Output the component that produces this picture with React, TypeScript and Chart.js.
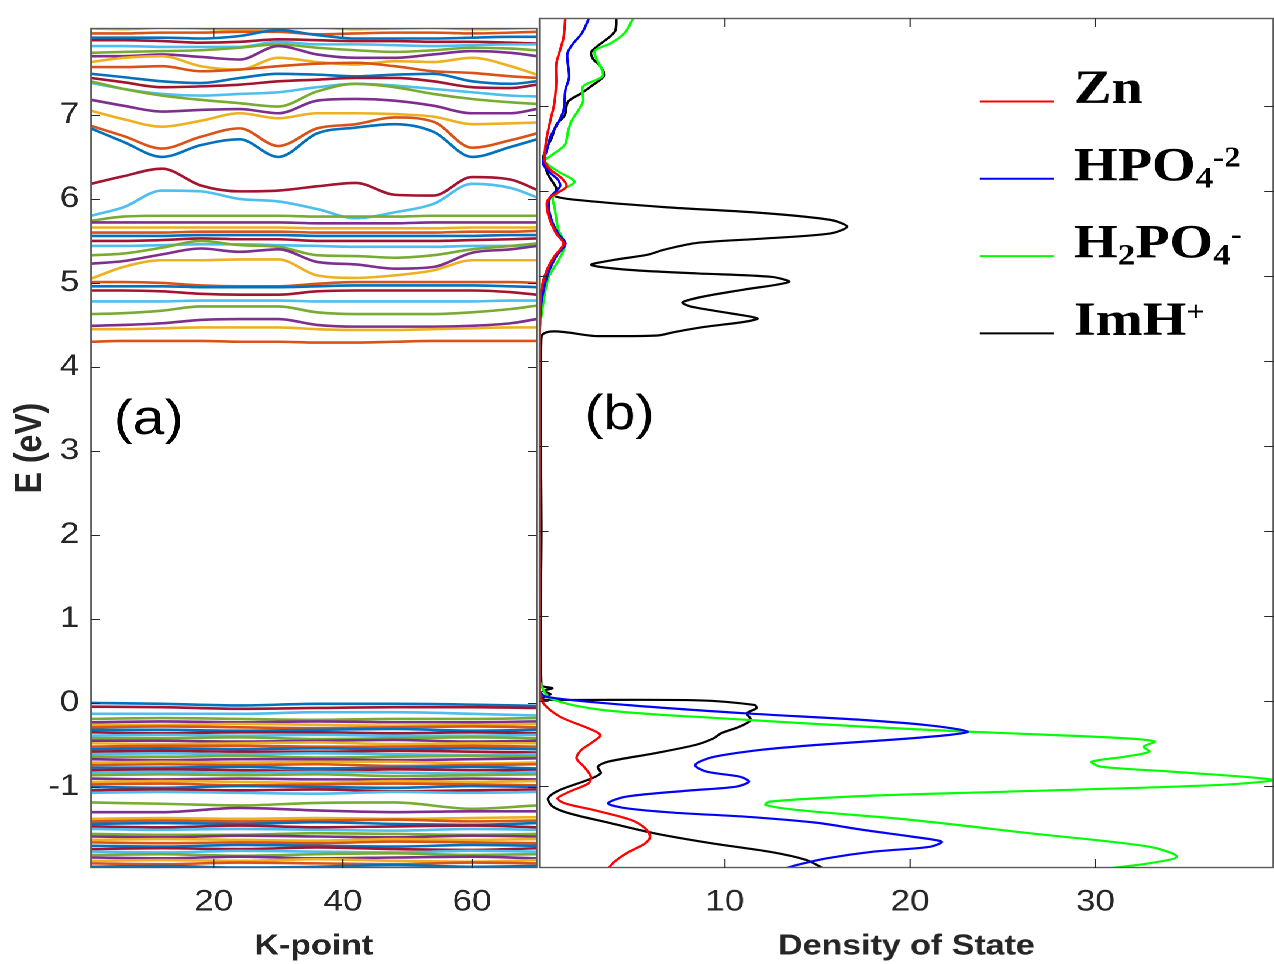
import React, { useEffect, useRef } from 'react';
import { Chart, registerables } from 'chart.js';

Chart.register(...registerables);

// ---------------- data ----------------
// k-points at which band energies were read
const K_VAL = [1, 12, 24, 36, 48, 60, 70];
const K_COND = [1, 6, 12, 18, 24, 30, 36, 42, 48, 54, 60, 66, 70];

// valence bands (eV), bottom to top, sampled at K_VAL
const VALENCE_BANDS = [
  [-1.95, -1.94, -1.96, -1.95, -1.93, -1.95, -1.94],
  [-1.91, -1.92, -1.9, -1.91, -1.92, -1.9, -1.91],
  [-1.88, -1.87, -1.88, -1.86, -1.88, -1.89, -1.87],
  [-1.84, -1.85, -1.83, -1.85, -1.84, -1.83, -1.85],
  [-1.81, -1.8, -1.82, -1.8, -1.79, -1.81, -1.8],
  [-1.77, -1.78, -1.76, -1.77, -1.78, -1.76, -1.77],
  [-1.74, -1.73, -1.74, -1.72, -1.74, -1.75, -1.73],
  [-1.7, -1.71, -1.69, -1.7, -1.71, -1.69, -1.7],
  [-1.66, -1.67, -1.66, -1.67, -1.65, -1.66, -1.67],
  [-1.63, -1.62, -1.63, -1.64, -1.62, -1.63, -1.62],
  [-1.59, -1.6, -1.58, -1.59, -1.6, -1.58, -1.59],
  [-1.56, -1.57, -1.57, -1.55, -1.56, -1.57, -1.56],
  [-1.5, -1.51, -1.5, -1.51, -1.52, -1.5, -1.51],
  [-1.47, -1.48, -1.46, -1.48, -1.47, -1.46, -1.48],
  [-1.44, -1.43, -1.44, -1.42, -1.44, -1.45, -1.43],
  [-1.41, -1.4, -1.41, -1.4, -1.39, -1.41, -1.4],
  [-1.38, -1.37, -1.38, -1.37, -1.38, -1.37, -1.36],
  [-1.3, -1.3, -1.25, -1.28, -1.3, -1.29, -1.29],
  [-1.185, -1.2, -1.22, -1.19, -1.185, -1.26, -1.22],
  [-1.07, -1.06, -1.07, -1.08, -1.06, -1.07, -1.06],
  [-1.04, -1.03, -1.04, -1.03, -1.05, -1.04, -1.03],
  [-1.0, -1.01, -0.99, -1.0, -1.01, -0.99, -1.0],
  [-0.97, -0.96, -0.98, -0.97, -0.96, -0.97, -0.98],
  [-0.94, -0.93, -0.94, -0.95, -0.93, -0.94, -0.93],
  [-0.9, -0.91, -0.9, -0.91, -0.91, -0.9, -0.91],
  [-0.86, -0.85, -0.86, -0.85, -0.87, -0.86, -0.85],
  [-0.83, -0.82, -0.83, -0.82, -0.83, -0.84, -0.82],
  [-0.8, -0.79, -0.8, -0.81, -0.79, -0.8, -0.8],
  [-0.77, -0.77, -0.76, -0.78, -0.77, -0.76, -0.78],
  [-0.74, -0.73, -0.74, -0.73, -0.75, -0.74, -0.73],
  [-0.71, -0.7, -0.71, -0.7, -0.7, -0.72, -0.71],
  [-0.67, -0.68, -0.67, -0.67, -0.68, -0.67, -0.66],
  [-0.64, -0.64, -0.63, -0.65, -0.64, -0.63, -0.64],
  [-0.61, -0.6, -0.61, -0.6, -0.61, -0.62, -0.61],
  [-0.58, -0.57, -0.58, -0.58, -0.57, -0.58, -0.59],
  [-0.55, -0.54, -0.55, -0.54, -0.55, -0.54, -0.55],
  [-0.52, -0.51, -0.51, -0.52, -0.52, -0.51, -0.52],
  [-0.48, -0.49, -0.48, -0.47, -0.49, -0.48, -0.48],
  [-0.45, -0.45, -0.46, -0.45, -0.44, -0.46, -0.45],
  [-0.42, -0.42, -0.41, -0.43, -0.42, -0.41, -0.42],
  [-0.39, -0.38, -0.39, -0.38, -0.39, -0.39, -0.38],
  [-0.35, -0.36, -0.35, -0.35, -0.36, -0.35, -0.36],
  [-0.32, -0.32, -0.33, -0.32, -0.31, -0.33, -0.32],
  [-0.29, -0.28, -0.29, -0.3, -0.29, -0.28, -0.29],
  [-0.26, -0.26, -0.25, -0.26, -0.27, -0.26, -0.25],
  [-0.23, -0.22, -0.23, -0.22, -0.23, -0.23, -0.22],
  [-0.19, -0.18, -0.19, -0.2, -0.19, -0.19, -0.18],
  [-0.13, -0.13, -0.13, -0.11, -0.11, -0.13, -0.15],
  [-0.045, -0.05, -0.07, -0.06, -0.05, -0.05, -0.06],
  [0.0, -0.01, -0.03, -0.01, -0.01, -0.02, -0.035],
];

// conduction bands (eV), bottom to top, sampled at K_COND
const CONDUCTION_BANDS = [
  [4.3, 4.31, 4.31, 4.31, 4.3, 4.3, 4.29, 4.29, 4.3, 4.31, 4.31, 4.31, 4.31],
  [4.45, 4.45, 4.46, 4.47, 4.47, 4.47, 4.45, 4.44, 4.44, 4.45, 4.46, 4.47, 4.47],
  [4.49, 4.5, 4.52, 4.56, 4.57, 4.57, 4.5, 4.48, 4.48, 4.48, 4.49, 4.52, 4.57],
  [4.63, 4.64, 4.67, 4.72, 4.72, 4.72, 4.65, 4.63, 4.63, 4.63, 4.65, 4.69, 4.73],
  [4.78, 4.78, 4.78, 4.79, 4.79, 4.79, 4.78, 4.78, 4.78, 4.78, 4.78, 4.79, 4.79],
  [4.91, 4.91, 4.9, 4.87, 4.86, 4.86, 4.9, 4.91, 4.91, 4.91, 4.91, 4.89, 4.86],
  [4.96, 4.96, 4.96, 4.95, 4.95, 4.95, 4.96, 4.97, 4.97, 4.97, 4.97, 4.96, 4.95],
  [5.01, 5.01, 5.0, 4.97, 4.96, 4.96, 4.99, 5.01, 5.01, 5.01, 5.01, 5.01, 5.0],
  [5.05, 5.19, 5.27, 5.27, 5.28, 5.28, 5.09, 5.06, 5.09, 5.15, 5.27, 5.27, 5.27],
  [5.23, 5.26, 5.34, 5.41, 5.37, 5.4, 5.25, 5.22, 5.17, 5.19, 5.36, 5.4, 5.44],
  [5.33, 5.35, 5.42, 5.5, 5.45, 5.43, 5.33, 5.32, 5.3, 5.33, 5.4, 5.44, 5.47],
  [5.44, 5.44, 5.45, 5.46, 5.46, 5.45, 5.44, 5.43, 5.43, 5.43, 5.44, 5.44, 5.45],
  [5.5, 5.5, 5.51, 5.53, 5.52, 5.52, 5.5, 5.5, 5.5, 5.5, 5.51, 5.52, 5.53],
  [5.56, 5.56, 5.56, 5.57, 5.57, 5.57, 5.56, 5.56, 5.56, 5.56, 5.56, 5.57, 5.57],
  [5.6, 5.6, 5.6, 5.61, 5.61, 5.61, 5.6, 5.6, 5.6, 5.6, 5.61, 5.61, 5.62],
  [5.66, 5.66, 5.66, 5.66, 5.66, 5.66, 5.65, 5.65, 5.65, 5.65, 5.66, 5.66, 5.66],
  [5.72, 5.72, 5.72, 5.72, 5.72, 5.72, 5.71, 5.71, 5.71, 5.72, 5.72, 5.72, 5.72],
  [5.74, 5.79, 5.8, 5.8, 5.8, 5.8, 5.79, 5.79, 5.79, 5.8, 5.8, 5.8, 5.8],
  [5.8, 5.9, 6.1, 6.09, 6.0, 5.97, 5.88, 5.77, 5.84, 5.94, 6.18, 6.13, 6.02],
  [6.18, 6.27, 6.36, 6.16, 6.09, 6.1, 6.15, 6.19, 6.05, 6.04, 6.26, 6.23, 6.11],
  [6.84, 6.68, 6.5, 6.64, 6.71, 6.5, 6.78, 6.85, 6.89, 6.8, 6.5, 6.62, 6.71],
  [6.87, 6.75, 6.6, 6.74, 6.84, 6.63, 6.84, 6.89, 6.97, 6.92, 6.61, 6.7, 6.78],
  [7.05, 6.95, 6.86, 6.93, 7.02, 6.96, 7.02, 7.02, 7.01, 6.98, 6.89, 6.9, 6.91],
  [7.18, 7.11, 7.04, 7.06, 7.07, 7.02, 7.17, 7.19, 7.17, 7.11, 7.02, 7.02, 7.07],
  [7.4, 7.31, 7.23, 7.18, 7.14, 7.1, 7.28, 7.37, 7.33, 7.25, 7.19, 7.15, 7.13],
  [7.38, 7.31, 7.25, 7.23, 7.25, 7.27, 7.33, 7.37, 7.35, 7.31, 7.27, 7.23, 7.22],
  [7.44, 7.39, 7.33, 7.34, 7.36, 7.4, 7.42, 7.44, 7.44, 7.4, 7.33, 7.32, 7.36],
  [7.49, 7.45, 7.4, 7.38, 7.44, 7.49, 7.48, 7.46, 7.48, 7.49, 7.4, 7.37, 7.4],
  [7.57, 7.57, 7.58, 7.52, 7.54, 7.58, 7.61, 7.62, 7.58, 7.52, 7.5, 7.46, 7.44],
  [7.63, 7.68, 7.7, 7.58, 7.54, 7.68, 7.63, 7.6, 7.64, 7.63, 7.68, 7.58, 7.48],
  [7.7, 7.7, 7.72, 7.69, 7.66, 7.82, 7.72, 7.68, 7.68, 7.72, 7.76, 7.74, 7.7],
  [7.74, 7.75, 7.76, 7.77, 7.8, 7.84, 7.8, 7.77, 7.75, 7.77, 7.8, 7.79, 7.77],
  [7.82, 7.82, 7.81, 7.81, 7.81, 7.87, 7.84, 7.84, 7.83, 7.82, 7.83, 7.84, 7.84],
  [7.89, 7.89, 7.88, 7.86, 7.87, 7.9, 7.89, 7.88, 7.88, 7.87, 7.87, 7.86, 7.85],
  [7.92, 7.92, 7.92, 7.91, 7.94, 8.01, 7.95, 7.91, 7.91, 7.91, 7.92, 7.93, 7.93],
  [7.97, 7.97, 7.98, 7.98, 7.99, 7.99, 7.96, 7.97, 7.98, 7.98, 7.97, 7.98, 7.99],
  [8.03, 8.02, 8.04, 8.03, 8.01, 8.03, 8.04, 8.02, 8.03, 8.04, 8.02, 8.03, 8.04],
];

// MATLAB default colour order
const BAND_COLORS = ['#0072BD', '#D95319', '#EDB120', '#7E2F8E', '#77AC30', '#4DBEEE', '#A2142F'];

// axes
const E_MIN = -1.965;
const E_MAX = 8.035;
const E_TICKS = [-1, 0, 1, 2, 3, 4, 5, 6, 7];
const K_MIN = 1;
const K_MAX = 70;
const K_TICKS = [20, 40, 60];
const DOS_MIN = 0;
const DOS_MAX = 39.6;
const DOS_TICKS = [10, 20, 30];

// partial density of states: energy (eV) and DOS, top to bottom
const ZN_E = [8.05, 7.81, 7.65, 7.49, 7.27, 7.03, 6.84, 6.64, 6.48, 6.34, 6.25, 6.15, 6.05, 5.93, 5.86, 5.7, 5.5, 5.38, 5.23, 5.07, 4.84, 4.5, 4.28, 2.0, 0.3, 0.13, -0.027, -0.184, -0.322, -0.4, -0.478, -0.576, -0.675, -0.773, -0.89, -0.969, -1.067, -1.145, -1.204, -1.282, -1.4, -1.498, -1.596, -1.675, -1.792, -1.89, -1.98];
const ZN_DOS = [1.4, 1.3, 1.1, 0.9, 0.9, 0.8, 0.6, 0.4, 0.3, 0.3, 0.6, 1.2, 1.45, 0.6, 0.4, 0.5, 0.9, 1.3, 0.8, 0.4, 0.1, 0.02, 0, 0, 0, 0, 0.21, 1.1, 2.64, 3.28, 2.9, 2.26, 2.0, 2.4, 2.77, 2.64, 1.62, 0.98, 1.36, 2.9, 4.95, 5.7, 5.97, 5.7, 4.69, 4.05, 3.67];

const HPO4_E = [8.05, 7.86, 7.73, 7.61, 7.34, 7.19, 6.95, 6.8, 6.64, 6.48, 6.32, 6.21, 6.13, 6.05, 5.93, 5.82, 5.66, 5.5, 5.38, 5.23, 4.99, 4.68, 4.28, 2.0, 0.3, 0.13, 0.05, -0.047, -0.145, -0.224, -0.294, -0.361, -0.4, -0.459, -0.518, -0.576, -0.663, -0.753, -0.831, -0.89, -0.949, -1.008, -1.055, -1.125, -1.204, -1.263, -1.314, -1.361, -1.431, -1.518, -1.596, -1.655, -1.714, -1.773, -1.851, -1.929, -1.98];
const HPO4_DOS = [2.7, 2.3, 1.8, 1.5, 1.6, 1.4, 1.3, 1.0, 0.6, 0.4, 0.2, 0.6, 1.0, 1.1, 0.6, 0.5, 0.65, 1.0, 1.4, 0.9, 0.4, 0.1, 0, 0, 0, 0, 0.34, 4.7, 11.1, 17.5, 21.3, 23.1, 22.1, 18.8, 14.9, 11.9, 9.3, 8.4, 9.0, 10.8, 11.3, 10.6, 8.0, 4.7, 3.7, 4.7, 7.25, 11.1, 14.9, 17.5, 20.1, 21.7, 21.1, 18.0, 15.5, 13.9, 13.1];

const H2PO4_E = [8.05, 7.86, 7.74, 7.64, 7.36, 7.23, 7.05, 6.82, 6.7, 6.54, 6.42, 6.35, 6.23, 6.11, 6.03, 5.93, 5.8, 5.56, 5.36, 5.21, 4.97, 4.54, 4.28, 2.0, 0.3, 0.208, 0.031, -0.106, -0.204, -0.302, -0.361, -0.4, -0.439, -0.478, -0.537, -0.596, -0.655, -0.714, -0.773, -0.831, -0.929, -0.988, -1.067, -1.118, -1.184, -1.224, -1.282, -1.4, -1.557, -1.714, -1.831, -1.91, -1.98];
const H2PO4_DOS = [5.1, 4.6, 3.87, 2.97, 3.42, 2.35, 2.35, 1.72, 1.54, 1.36, 0.65, 0.29, 1.0, 1.9, 1.36, 0.73, 0.82, 1.0, 1.36, 1.09, 0.47, 0.11, 0, 0, 0, 0.05, 0.59, 3.41, 9.81, 17.5, 23.1, 27.7, 31.6, 33.2, 32.6, 32.9, 31.6, 29.8, 30.3, 34.1, 39.6, 36.7, 25.2, 17.5, 12.4, 12.2, 13.9, 20.1, 26.5, 32.9, 34.4, 32.9, 30.2];

const IMH_E = [8.05, 7.87, 7.64, 7.55, 7.48, 7.36, 7.25, 7.15, 7.05, 6.89, 6.78, 6.62, 6.5, 6.38, 6.19, 6.03, 5.94, 5.89, 5.81, 5.74, 5.66, 5.58, 5.5, 5.44, 5.39, 5.31, 5.25, 5.19, 5.13, 5.07, 5.03, 4.99, 4.93, 4.84, 4.76, 4.69, 4.64, 4.56, 4.5, 4.46, 4.4, 4.34, 4.3, 4.292, 4.285, 2.0, 0.19, 0.15, 0.12, 0.08, 0.04, 0.015, 0.008, -0.047, -0.086, -0.145, -0.224, -0.302, -0.38, -0.439, -0.518, -0.616, -0.714, -0.773, -0.851, -0.929, -1.047, -1.145, -1.243, -1.322, -1.431, -1.557, -1.675, -1.773, -1.871, -1.98];
const IMH_DOS = [4.15, 4.05, 2.8, 2.9, 3.24, 3.5, 2.9, 2.26, 1.54, 1.36, 0.91, 0.65, 0.38, 0.2, 0.47, 0.91, 0.82, 2.26, 6.74, 12.1, 15.7, 16.6, 15.7, 12.1, 8.53, 6.74, 5.84, 4.05, 2.8, 4.95, 8.53, 12.5, 13.46, 11.04, 8.89, 7.72, 8.17, 10.32, 11.76, 11.04, 8.89, 7.28, 6.38, 3.2, 0.1, 0.1, 0.1, 0.7, 0.2, 0.6, 0.2, 0.1, 8.5, 11.6, 11.7, 11.2, 11.4, 10.8, 9.8, 9.4, 8.4, 6.2, 3.7, 3.15, 3.3, 2.6, 1.1, 0.47, 0.72, 1.6, 3.7, 6.2, 9.3, 12.4, 14.4, 15.4];

const SPECIES = ['Zn', 'HPO4-2', 'H2PO4-', 'ImH+'];
const SPECIES_COLORS = ['#ff0000', '#0000ff', '#00ff00', '#000000'];
const SPECIES_E = [ZN_E, HPO4_E, H2PO4_E, IMH_E];
const SPECIES_DOS = [ZN_DOS, HPO4_DOS, H2PO4_DOS, IMH_DOS];

// legend text pieces: [text, 'n' | 'sub' | 'sup']
const LEGEND_PARTS = [
  [['Zn', 'n']],
  [['HPO', 'n'], ['4', 'sub'], ['-2', 'sup']],
  [['H', 'n'], ['2', 'sub'], ['PO', 'n'], ['4', 'sub'], ['-', 'sup']],
  [['ImH', 'n'], ['+', 'sup']],
];

const PANEL_LABELS_A = [{ text: '(a)', x: 4.5, y: 3.36 }];
const PANEL_LABELS_B = [{ text: '(b)', x: 2.42, y: 3.36 }];

// ---------------- layout ----------------
const SX = 1.17; // horizontal stretch of the figure
const PAGE_W = 1274;
const PAGE_H = 964;
const LOG_W = PAGE_W / SX;
const A_W = 460; // logical width of band panel canvas
const B_W = LOG_W - A_W;
const AXIS_COL = '#262626';
const FRAME_COL = '#5a5a5a';
const SANS = '"Liberation Sans", Arial, Helvetica, sans-serif';
const SERIF = '"Liberation Serif", "Times New Roman", Times, serif';

const boxPlugin = {
  id: 'matlabBox',
  afterDatasetsDraw(chart: any, _args: any, opts: any) {
    const { ctx, chartArea } = chart;
    const { left, right, top, bottom } = chartArea;
    const xs = chart.scales.x;
    const ys = chart.scales.y;
    ctx.save();
    ctx.strokeStyle = FRAME_COL;
    ctx.lineWidth = 1.4;
    ctx.strokeRect(left, top + 0.5, right - left, bottom - top - 1);
    ctx.strokeStyle = AXIS_COL;
    ctx.lineWidth = 1.1;
    ctx.beginPath();
    const Lv = 9;
    const Lh = 9 / SX;
    for (const v of opts.xTicks || []) {
      const px = xs.getPixelForValue(v);
      ctx.moveTo(px, bottom);
      ctx.lineTo(px, bottom - Lv);
      ctx.moveTo(px, top);
      ctx.lineTo(px, top + Lv);
    }
    for (const v of opts.yTicks || []) {
      const py = Math.round(ys.getPixelForValue(v)) + 0.5;
      ctx.moveTo(left, py);
      ctx.lineTo(left + Lh, py);
      ctx.moveTo(right, py);
      ctx.lineTo(right - Lh, py);
    }
    ctx.stroke();
    ctx.restore();
  },
};

const panelTextPlugin = {
  id: 'panelText',
  afterDraw(chart: any, _args: any, opts: any) {
    if (!opts || !opts.items) return;
    const { ctx } = chart;
    const xs = chart.scales.x;
    const ys = chart.scales.y;
    ctx.save();
    ctx.font = `49px ${SANS}`;
    ctx.fillStyle = '#000';
    ctx.textBaseline = 'middle';
    ctx.textAlign = 'left';
    for (const it of opts.items) {
      ctx.fillText(it.text, xs.getPixelForValue(it.x), ys.getPixelForValue(it.y));
    }
    ctx.restore();
  },
};

const legendPlugin = {
  id: 'speciesLegend',
  afterDraw(chart: any, _args: any, opts: any) {
    if (!opts || !opts.entries) return;
    const { ctx } = chart;
    const left = chart.chartArea.left;
    ctx.save();
    opts.entries.forEach((parts: any[], i: number) => {
      const yb = opts.y0 + i * opts.dy;
      ctx.strokeStyle = opts.colors[i];
      ctx.lineWidth = 2;
      ctx.beginPath();
      ctx.moveTo(left + opts.lineX0, yb - 1.5);
      ctx.lineTo(left + opts.lineX1, yb - 1.5);
      ctx.stroke();
      let x = left + opts.textX;
      ctx.fillStyle = '#000';
      ctx.textBaseline = 'alphabetic';
      ctx.textAlign = 'left';
      for (const [t, kind] of parts) {
        const size = kind === 'n' ? 48 : kind === 'sub' ? 30 : 28;
        ctx.font = `bold ${size}px ${SERIF}`;
        const off = kind === 'sub' ? 7 : kind === 'sup' ? -14 : 0;
        ctx.fillText(t, x, yb + off);
        x += ctx.measureText(t).width;
      }
    });
    ctx.restore();
  },
};

function fixedTicks(values: number[]) {
  return (scale: any) => {
    scale.ticks = values.map((v) => ({ value: v }));
  };
}

const tickFont = { family: SANS, size: 30 };
const titleFont = { family: SANS, size: 29, weight: 'bold' as const };

export default function App() {
  const refA = useRef<HTMLCanvasElement | null>(null);
  const refB = useRef<HTMLCanvasElement | null>(null);

  useEffect(() => {
    const allBands = [
      ...VALENCE_BANDS.map((e) => ({ k: K_VAL, e })),
      ...CONDUCTION_BANDS.map((e) => ({ k: K_COND, e })),
    ];
    const bandSets = allBands.map((b, i) => ({
      label: `band ${i + 1}`,
      data: b.e.map((e, j) => ({ x: b.k[j], y: e })),
      borderColor: BAND_COLORS[i % BAND_COLORS.length],
      borderWidth: 2.6,
      pointRadius: 0,
      fill: false,
      cubicInterpolationMode: 'monotone' as const,
    }));

    const chartA = new Chart(refA.current as HTMLCanvasElement, {
      type: 'line',
      data: { datasets: bandSets as any },
      plugins: [boxPlugin, panelTextPlugin],
      options: {
        animation: false,
        responsive: true,
        maintainAspectRatio: false,
        devicePixelRatio: 2,
        layout: { padding: { top: 18, right: 0, left: 0, bottom: 0 } },
        events: [],
        scales: {
          x: {
            type: 'linear',
            min: K_MIN,
            max: K_MAX,
            afterBuildTicks: fixedTicks(K_TICKS),
            afterFit: (s: any) => {
              s.height = PAGE_H - 868;
            },
            grid: { display: false, drawTicks: false },
            border: { display: false },
            ticks: { font: tickFont, color: AXIS_COL, padding: 16, maxRotation: 0, autoSkip: false },
            title: { display: true, text: 'K-point', font: titleFont, color: AXIS_COL, padding: { top: 0, bottom: 0 } },
          },
          y: {
            type: 'linear',
            min: E_MIN,
            max: E_MAX,
            afterBuildTicks: fixedTicks(E_TICKS),
            afterFit: (s: any) => {
              s.width = 91 / SX;
            },
            grid: { display: false, drawTicks: false },
            border: { display: false },
            ticks: { font: tickFont, color: AXIS_COL, padding: 10, autoSkip: false, callback: (v: any) => String(v) },
            title: { display: true, text: 'E (eV)', font: { ...titleFont, size: 32 }, color: AXIS_COL, padding: { top: 7, bottom: 0 } },
          },
        },
        plugins: {
          legend: { display: false },
          tooltip: { enabled: false },
          matlabBox: { xTicks: K_TICKS, yTicks: E_TICKS },
          panelText: { items: PANEL_LABELS_A },
        } as any,
      },
    });

    const dosSets = SPECIES.map((name, i) => ({
      label: name,
      data: SPECIES_E[i].map((e, j) => ({ x: SPECIES_DOS[i][j], y: e })),
      borderColor: SPECIES_COLORS[i],
      borderWidth: 2.2,
      pointRadius: 0,
      fill: false,
      tension: 0.3,
    }));

    const chartB = new Chart(refB.current as HTMLCanvasElement, {
      type: 'line',
      data: { datasets: dosSets as any },
      plugins: [boxPlugin, panelTextPlugin, legendPlugin],
      options: {
        animation: false,
        responsive: true,
        maintainAspectRatio: false,
        devicePixelRatio: 2,
        layout: { padding: { top: 18, right: 0, left: 0, bottom: 0 } },
        events: [],
        scales: {
          x: {
            type: 'linear',
            min: DOS_MIN,
            max: DOS_MAX,
            afterBuildTicks: fixedTicks(DOS_TICKS),
            afterFit: (s: any) => {
              s.height = PAGE_H - 868;
            },
            grid: { display: false, drawTicks: false },
            border: { display: false },
            ticks: { font: tickFont, color: AXIS_COL, padding: 16, maxRotation: 0, autoSkip: false },
            title: { display: true, text: 'Density of State', font: titleFont, color: AXIS_COL, padding: { top: 0, bottom: 0 } },
          },
          y: {
            type: 'linear',
            min: E_MIN,
            max: E_MAX,
            display: false,
            afterBuildTicks: fixedTicks(E_TICKS),
          },
        },
        plugins: {
          legend: { display: false },
          tooltip: { enabled: false },
          matlabBox: { xTicks: DOS_TICKS, yTicks: E_TICKS },
          panelText: { items: PANEL_LABELS_B },
          speciesLegend: {
            entries: LEGEND_PARTS,
            colors: SPECIES_COLORS,
            y0: 103,
            dy: 77.3,
            lineX0: (978 - 538) / SX,
            lineX1: (1052 - 538) / SX,
            textX: (1072 - 538) / SX,
          },
        } as any,
      },
    });

    return () => {
      chartA.destroy();
      chartB.destroy();
    };
  }, []);

  return (
    <div
      style={{
        position: 'absolute',
        left: 0,
        top: 0,
        width: LOG_W,
        height: PAGE_H,
        transform: `scaleX(${SX})`,
        transformOrigin: '0 0',
        background: '#fff',
        overflow: 'hidden',
      }}
    >
      <div style={{ position: 'absolute', left: 0, top: 0, width: A_W, height: PAGE_H }}>
        <canvas ref={refA} />
      </div>
      <div style={{ position: 'absolute', left: A_W, top: 0, width: B_W, height: PAGE_H }}>
        <canvas ref={refB} />
      </div>
    </div>
  );
}
